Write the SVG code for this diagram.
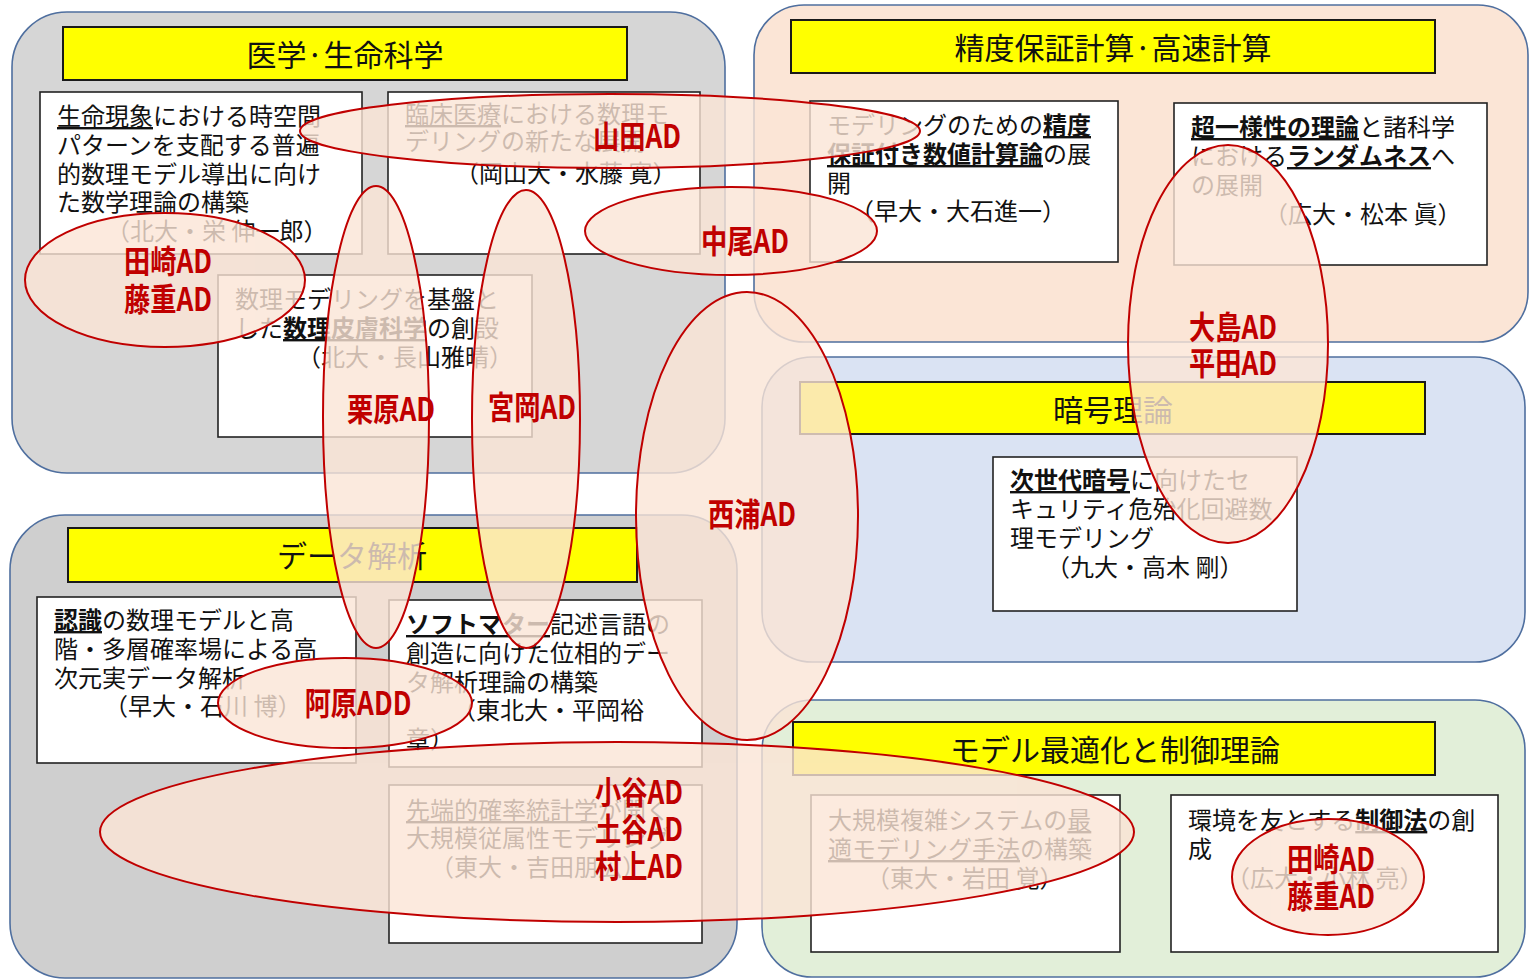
<svg xmlns="http://www.w3.org/2000/svg" xmlns:xlink="http://www.w3.org/1999/xlink" width="1530" height="980" viewBox="0 0 1530 980">
<style>
.panel{stroke:#4f6f9f;stroke-width:1.6}
.bar{fill:#ffff00;stroke:#1a1a1a;stroke-width:2}
.ttl{font-family:"Noto Sans CJK JP","Noto Sans CJK SC",sans-serif;font-size:30px;fill:#111;text-anchor:middle}
.box{fill:#fff;stroke:#222;stroke-width:1.6}
.t{font-family:"Noto Sans CJK JP","Noto Sans CJK SC",sans-serif;font-size:24px;fill:#111}
.u{text-decoration:underline}
.b{font-weight:bold}
.lbl{font-family:"Noto Sans CJK JP","Noto Sans CJK SC",sans-serif;font-size:32px;font-weight:bold;fill:#c00000;text-anchor:middle}
.ring{fill:none;stroke:#c00000;stroke-width:2}
</style>
<defs>
<ellipse id="e-yamada" cx="610" cy="131" rx="310" ry="37"/>
<ellipse id="e-nakao" cx="731" cy="231" rx="146" ry="44"/>
<ellipse id="e-tasaki1" cx="165" cy="280" rx="140" ry="67"/>
<ellipse id="e-kurihara" cx="376" cy="417" rx="53" ry="231"/>
<ellipse id="e-miyaoka" cx="526" cy="419" rx="54" ry="229"/>
<ellipse id="e-nishiura" cx="747" cy="516" rx="111" ry="224"/>
<ellipse id="e-oshima" cx="1228" cy="344" rx="100" ry="199"/>
<ellipse id="e-ahara" cx="345" cy="703" rx="127" ry="45"/>
<ellipse id="e-kotani" cx="617" cy="832" rx="517" ry="90"/>
<ellipse id="e-tasaki2" cx="1328" cy="877" rx="96" ry="58"/>
</defs>
<rect width="1530" height="980" fill="#fff"/>

<g id="panel-medical">
<rect class="panel" x="12" y="12" width="713" height="461" rx="55" fill="#d6d6d6"/>
<rect class="bar" x="63" y="27" width="564" height="53"/>
<text class="ttl" x="345" y="66">医学·生命科学</text>
</g>
<g id="panel-precision">
<rect class="panel" x="754" y="5" width="774" height="337" rx="50" fill="#fbe5d6"/>
<rect class="bar" x="791" y="20" width="644" height="53"/>
<text class="ttl" x="1113" y="59">精度保証計算·高速計算</text>
</g>
<g id="panel-crypto">
<rect class="panel" x="762" y="357" width="763" height="305" rx="50" fill="#dae3f3"/>
<rect class="bar" x="800" y="382" width="625" height="52"/>
<text class="ttl" x="1113" y="421">暗号理論</text>
</g>
<g id="panel-data">
<rect class="panel" x="10" y="515" width="727" height="463" rx="55" fill="#cfcfcf"/>
<rect class="bar" x="68" y="528" width="569" height="54"/>
<text class="ttl" x="352" y="567">データ解析</text>
</g>
<g id="panel-control">
<rect class="panel" x="762" y="700" width="763" height="277" rx="50" fill="#e2efd9"/>
<rect class="bar" x="793" y="722" width="642" height="53"/>
<text class="ttl" x="1115" y="761">モデル最適化と制御理論</text>
</g>

<g id="box-sakai">
<rect class="box" x="40" y="92" width="322" height="162"/>
<text class="t" x="57" y="125"><tspan class="u">生命現象</tspan>における時空間</text>
<text class="t" x="57" y="154">パターンを支配する普遍</text>
<text class="t" x="57" y="183">的数理モデル導出に向け</text>
<text class="t" x="57" y="211">た数学理論の構築</text>
<text class="t" x="106" y="240">（北大・栄 伸一郎）</text>
</g>
<g id="box-suito">
<rect class="box" x="388" y="92" width="312" height="162"/>
<text class="t" x="405" y="123"><tspan class="u">臨床医療</tspan>における数理モ</text>
<text class="t" x="405" y="150">デリングの新たな展開</text>
<text class="t" x="455" y="182">（岡山大・水藤 寛）</text>
</g>
<g id="box-nagayama">
<rect class="box" x="218" y="275" width="314" height="162"/>
<text class="t" x="235" y="308">数理モデリングを基盤と</text>
<text class="t" x="235" y="337">した<tspan class="u b">数理皮膚科学</tspan>の創設</text>
<text class="t" x="297" y="366">（北大・長山雅晴）</text>
</g>
<g id="box-oishi">
<rect class="box" x="810" y="101" width="308" height="161"/>
<text class="t" x="827" y="134">モデリングのための<tspan class="u b">精度</tspan></text>
<text class="t" x="827" y="163"><tspan class="u b">保証付き数値計算論</tspan>の展</text>
<text class="t" x="827" y="192">開</text>
<text class="t" x="850" y="220">（早大・大石進一）</text>
</g>
<g id="box-matsumoto">
<rect class="box" x="1174" y="103" width="313" height="162"/>
<text class="t" x="1191" y="136"><tspan class="u b">超一様性の理論</tspan>と諸科学</text>
<text class="t" x="1191" y="165">における<tspan class="u b">ランダムネス</tspan>へ</text>
<text class="t" x="1191" y="194">の展開</text>
<text class="t" x="1264" y="223">（広大・松本 眞）</text>
</g>
<g id="box-takagi">
<rect class="box" x="993" y="457" width="304" height="154"/>
<text class="t" x="1010" y="489"><tspan class="u b">次世代暗号</tspan>に向けたセ</text>
<text class="t" x="1010" y="518">キュリティ危殆化回避数</text>
<text class="t" x="1010" y="547">理モデリング</text>
<text class="t" x="1046" y="576">（九大・高木 剛）</text>
</g>
<g id="box-ishikawa">
<rect class="box" x="37" y="597" width="319" height="166"/>
<text class="t" x="54" y="629"><tspan class="u b">認識</tspan>の数理モデルと高</text>
<text class="t" x="54" y="658">階・多層確率場による高</text>
<text class="t" x="54" y="687">次元実データ解析</text>
<text class="t" x="104" y="715">（早大・石川 博）</text>
</g>
<g id="box-hiraoka">
<rect class="box" x="389" y="600" width="313" height="167"/>
<text class="t" x="406" y="633"><tspan class="u b">ソフトマター</tspan>記述言語の</text>
<text class="t" x="406" y="662">創造に向けた位相的デー</text>
<text class="t" x="406" y="691">タ解析理論の構築</text>
<text class="t" x="452" y="719">（東北大・平岡裕</text>
<text class="t" x="406" y="748">章）</text>
</g>
<g id="box-yoshida">
<rect class="box" x="389" y="785" width="313" height="158"/>
<text class="t" x="406" y="819"><tspan class="u">先端的確率統計学</tspan>が開く</text>
<text class="t" x="406" y="847">大規模従属性モデリング</text>
<text class="t" x="430" y="876">（東大・吉田朋広）</text>
</g>
<g id="box-iwata">
<rect class="box" x="811" y="795" width="309" height="157"/>
<text class="t" x="828" y="829">大規模複雑システムの<tspan class="u">最</tspan></text>
<text class="t" x="828" y="858"><tspan class="u">適モデリング手法</tspan>の構築</text>
<text class="t" x="866" y="887">（東大・岩田 覚）</text>
</g>
<g id="box-kobayashi">
<rect class="box" x="1171" y="795" width="327" height="157"/>
<text class="t" x="1188" y="829">環境を友とする<tspan class="u b">制御法</tspan>の創</text>
<text class="t" x="1188" y="858">成</text>
<text class="t" x="1226" y="887">（広大・小林 亮）</text>
</g>

<g id="ad-shading" fill="#fbe5d6" opacity="0.8">
<use xlink:href="#e-yamada"/>
<use xlink:href="#e-nakao"/>
<use xlink:href="#e-tasaki1"/>
<use xlink:href="#e-kurihara"/>
<use xlink:href="#e-miyaoka"/>
<use xlink:href="#e-nishiura"/>
<use xlink:href="#e-oshima"/>
<use xlink:href="#e-ahara"/>
<use xlink:href="#e-kotani"/>
<use xlink:href="#e-tasaki2"/>
</g>

<g id="ad-yamada"><use class="ring" xlink:href="#e-yamada"/><text class="lbl" transform="translate(637,148) scale(0.82,1)">山田AD</text></g>
<g id="ad-nakao"><use class="ring" xlink:href="#e-nakao"/><text class="lbl" transform="translate(745,253) scale(0.82,1)">中尾AD</text></g>
<g id="ad-tasaki-fujishige-1"><use class="ring" xlink:href="#e-tasaki1"/><text class="lbl" transform="translate(168,273) scale(0.82,1)">田崎AD</text><text class="lbl" transform="translate(168,311) scale(0.82,1)">藤重AD</text></g>
<g id="ad-kurihara"><use class="ring" xlink:href="#e-kurihara"/><text class="lbl" transform="translate(391,421) scale(0.82,1)">栗原AD</text></g>
<g id="ad-miyaoka"><use class="ring" xlink:href="#e-miyaoka"/><text class="lbl" transform="translate(532,419) scale(0.82,1)">宮岡AD</text></g>
<g id="ad-nishiura"><use class="ring" xlink:href="#e-nishiura"/><text class="lbl" transform="translate(752,526) scale(0.82,1)">西浦AD</text></g>
<g id="ad-oshima-hirata"><use class="ring" xlink:href="#e-oshima"/><text class="lbl" transform="translate(1233,339) scale(0.82,1)">大島AD</text><text class="lbl" transform="translate(1233,375) scale(0.82,1)">平田AD</text></g>
<g id="ad-ahara"><use class="ring" xlink:href="#e-ahara"/><text class="lbl" transform="translate(358,715) scale(0.82,1)">阿原ADD</text></g>
<g id="ad-kotani-tsuchiya-murakami"><use class="ring" xlink:href="#e-kotani"/><text class="lbl" transform="translate(639,804) scale(0.82,1)">小谷AD</text><text class="lbl" transform="translate(639,841) scale(0.82,1)">土谷AD</text><text class="lbl" transform="translate(639,878) scale(0.82,1)">村上AD</text></g>
<g id="ad-tasaki-fujishige-2"><use class="ring" xlink:href="#e-tasaki2"/><text class="lbl" transform="translate(1331,871) scale(0.82,1)">田崎AD</text><text class="lbl" transform="translate(1331,908) scale(0.82,1)">藤重AD</text></g>
</svg>
